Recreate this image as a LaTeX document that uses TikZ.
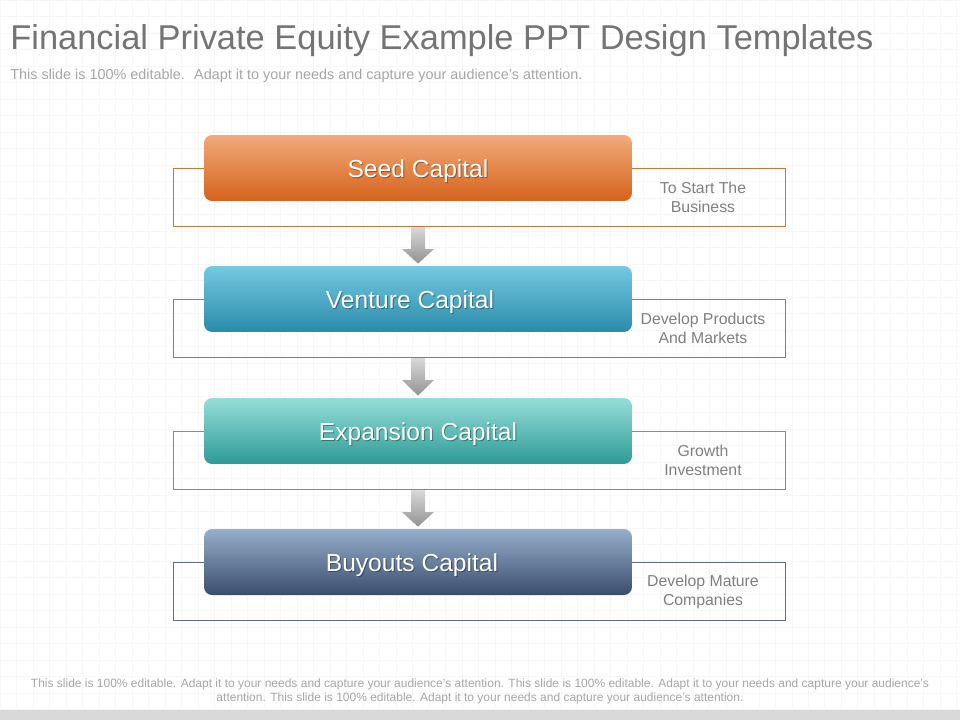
\documentclass[tikz,border=0pt]{standalone}
\usepackage{fontspec}
\setmainfont{Liberation Sans}
\usetikzlibrary{calc}
\definecolor{titlegray}{HTML}{747474}
\definecolor{lightgray}{HTML}{A6A6A6}
\definecolor{notegray}{HTML}{808080}
\definecolor{gridgray}{HTML}{F7F7F7}
\definecolor{barfill}{HTML}{D9D9D9}
\definecolor{seedtop}{HTML}{F2AB7A}
\definecolor{seedbot}{HTML}{D5621B}
\definecolor{seedline}{HTML}{C8763A}
\definecolor{venturetop}{HTML}{74C9E1}
\definecolor{venturebot}{HTML}{2A8BAA}
\definecolor{ventureline}{HTML}{3A9ABA}
\definecolor{expansiontop}{HTML}{95DED8}
\definecolor{expansionbot}{HTML}{2E9A96}
\definecolor{expansionline}{HTML}{4AA5A8}
\definecolor{buyoutstop}{HTML}{96AFCC}
\definecolor{buyoutsbot}{HTML}{3A4D6C}
\definecolor{buyoutsline}{HTML}{5A6E8A}
\begin{document}
\begin{tikzpicture}[x=0.02cm,y=-0.02cm,
    stagefr/.style={draw, line width=0.6pt, minimum width=12.26cm, minimum height=1.16cm, inner sep=0pt},
    stage/.style={rounded corners=0.16cm, minimum width=8.56cm, minimum height=1.32cm, inner sep=0pt},
    stagetext/.style={text=white, font=\fontsize{14}{16}\selectfont, inner sep=0pt},
    note/.style={text=notegray, align=center, font=\fontsize{9}{10.8}\selectfont}]
  % Background, grid and bottom bar
  \useasboundingbox (0,0) rectangle (960,720);
  \fill[white] (0,0) rectangle (960,720);
  \draw[gridgray, step=0.33cm] (0,0) grid (960,710);
  \fill[barfill] (0,710) rectangle (960,720);
  % Title and subtitle
  \node[anchor=base west, inner sep=0pt, text=titlegray, font=\fontsize{19.6}{22}\selectfont] (title) at (10,50)
    {Financial Private Equity Example PPT Design Templates};
  \node[anchor=base west, inner sep=0pt, text=lightgray, font=\fontsize{8.2}{10}\selectfont] (subtitle) at (10,79)
    {This slide is 100\% editable.~ Adapt it to your needs and capture your audience's attention.};
  % Draw the four stages with their side notes
  \foreach \name/\y/\dx/\txt/\info in {
      seed/168/0/{Seed Capital}/{To Start The\\Business},
      venture/299/-8/{Venture Capital}/{Develop Products\\And Markets},
      expansion/431/0/{Expansion Capital}/{Growth\\Investment},
      buyouts/562/-6/{Buyouts Capital}/{Develop Mature\\Companies}} {
    \node[stagefr, draw=\name line] (\name-fr) at (479.5,\y+29.5) {};
    \node[stage, top color=\name top, bottom color=\name bot] (\name) at (418,\y) {};
    \node[stagetext, text=black, opacity=0.35] (\name-shadow) at ($(\name)+(\dx+1,4)$) {\txt};
    \node[stagetext] (\name-label) at ($(\name)+(\dx,3)$) {\txt};
    \node[note] (\name-note) at (703,\y+29.5) {\info};
  }
  % Draw the arrows between the stages
  \foreach \a/\b in {seed/venture, venture/expansion, expansion/buyouts} {
    \shade[top color=gray!30, bottom color=gray!85]
      ($(\a-fr.south -| \b.north)+(-7,0)$) -- ++(14,0) -- ++(0,22) -- ++(9,0)
      -- ($(\b.north)+(0,-2)$)
      -- ($(\a-fr.south -| \b.north)+(-16,22)$) -- ++(9,0) -- cycle;
  }
  % Footer text
  \node[text=lightgray, align=center, font=\fontsize{6.83}{7.9}\selectfont] (footer) at (480,691)
    {This slide is 100\% editable. Adapt it to your needs and capture your audience's attention. This slide is 100\% editable. Adapt it to your needs and capture your audience's\\
     attention. This slide is 100\% editable. Adapt it to your needs and capture your audience's attention.};
\end{tikzpicture}
\end{document}
